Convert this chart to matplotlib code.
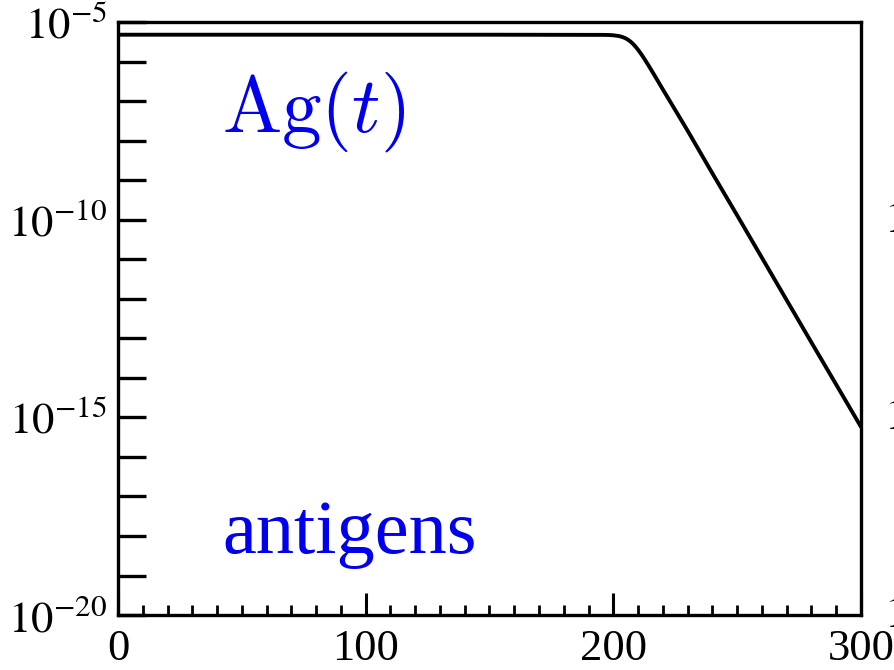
import numpy as np
import matplotlib
matplotlib.use("Agg")
import matplotlib.pyplot as plt
from matplotlib.ticker import FixedLocator, MultipleLocator, FuncFormatter

# antigen concentration (log scale)
t = [0, 50, 100, 150, 196, 198, 200, 202, 203, 204, 205, 206, 207, 208, 209, 210,
     211, 212, 213, 214, 216, 218, 220,
     230, 240, 250, 260, 270, 280, 290, 300]
Ag = [4.8e-6, 4.8e-6, 4.8e-6, 4.8e-6, 4.75e-6, 4.73e-6, 4.64e-6, 4.47e-6, 4.32e-6,
      4.13e-6, 3.88e-6, 3.56e-6, 3.20e-6, 2.80e-6, 2.39e-6, 2.00e-6,
      1.64e-6, 1.33e-6, 1.06e-6, 8.45e-7, 5.27e-7, 3.24e-7, 1.99e-7,
      1.8e-8, 1.5e-9, 1.3e-10, 1.1e-11, 9.3e-13, 7.9e-14, 6.8e-15, 5.8e-16]

y_decades = list(range(-20, -4))
y_labelled = [-5, -10, -15, -20]
x_major = [0, 100, 200, 300]
neighbour_labels = [-10, -15, -20]

plt.rcParams['font.family'] = ['Liberation Serif', 'DejaVu Serif']
plt.rcParams['mathtext.fontset'] = 'stix'

fig = plt.figure(figsize=(8.94, 6.7), dpi=100)
ax = fig.add_axes([0.132, 0.082, 0.831, 0.885])

ax.plot(t, Ag, color='black', lw=2.8, solid_capstyle='round')
ax.set_yscale('log')
ax.set_xlim(0, 300)
ax.set_ylim(1e-20, 1e-5)

ax.yaxis.set_major_locator(FixedLocator([10.0**d for d in y_decades]))
ax.yaxis.set_minor_locator(FixedLocator([]))
ax.yaxis.set_major_formatter(FuncFormatter(
    lambda v, p: r'$10^{%d}$' % round(np.log10(v)) if round(np.log10(v)) in y_labelled else ''))
ax.xaxis.set_major_locator(FixedLocator(x_major))
ax.xaxis.set_minor_locator(MultipleLocator(10))

for s in ax.spines.values():
    s.set_linewidth(2.4)
ax.tick_params(axis='y', which='major', direction='in', length=20, width=2.4,
               labelsize=32, pad=8, right=False)
ax.tick_params(axis='x', which='major', direction='in', length=16, width=2.2,
               labelsize=32, pad=10, top=False)
ax.tick_params(axis='x', which='minor', direction='in', length=7, width=2.0, top=False)

ax.text(0.140, 0.815, r'$\mathrm{Ag}(t)$', transform=ax.transAxes, color='#0000ee',
        fontsize=57, va='baseline', ha='left', math_fontfamily='cm')
ax.text(0.141, 0.105, 'antigens', transform=ax.transAxes, color='#0000ee',
        fontsize=55, va='baseline', ha='left')

# tick labels of the neighbouring panel, cut off by the figure edge
for yv in neighbour_labels:
    fig.text(884 / 894, 0.082 + 0.885 * (yv + 20) / 15,
             r'$10^{%d}$' % yv, fontsize=32, va='center', ha='left')

fig.savefig('out.png', dpi=100)
